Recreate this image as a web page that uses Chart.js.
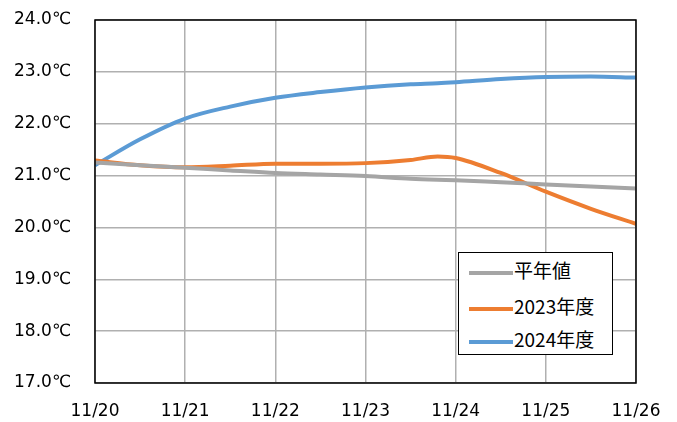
<!DOCTYPE html>
<html>
<head>
<meta charset="utf-8">
<script src="https://cdn.jsdelivr.net/npm/chart.js@4.4.0/dist/chart.umd.min.js"></script>
<style>
  body { margin: 0; background: #fff; }
  #wrap { position: relative; width: 677px; height: 422px; }
  #legend {
    position: absolute; left: 458px; top: 252px; width: 153px; height: 101px;
    border: 1px solid #000; background: #fff;
    font-family: "Noto Sans CJK JP", "DejaVu Sans", sans-serif; font-size: 19px; color: #000;
  }
  .item { position: absolute; left: 10px; height: 24px; line-height: 24px; white-space: nowrap; }
  .item span.sw { display: inline-block; width: 44px; height: 4px; vertical-align: middle; margin-right: 1px; }
</style>
</head>
<body>
<div id="wrap">
  <canvas id="chart" width="677" height="422"></canvas>
  <div id="legend"></div>
</div>
<script>
// day offsets from 11/20
let days = [0, 0.5, 1, 1.5, 2, 2.5, 3, 3.5, 3.8, 4, 4.5, 5, 5.5, 6];
let dayLabels = ["11/20", "11/21", "11/22", "11/23", "11/24", "11/25", "11/26"];
let yLabels = ["17.0℃", "18.0℃", "19.0℃", "20.0℃", "21.0℃", "22.0℃", "23.0℃", "24.0℃"];

let normal  = [21.25, 21.20, 21.15, 21.10, 21.05, 21.02, 20.99, 20.94, 20.92, 20.91, 20.87, 20.83, 20.79, 20.75];
let fy2023  = [21.29, 21.20, 21.16, 21.19, 21.23, 21.23, 21.24, 21.30, 21.37, 21.34, 21.05, 20.69, 20.36, 20.07];
let fy2024  = [21.20, 21.70, 22.10, 22.33, 22.50, 22.61, 22.70, 22.76, 22.78, 22.80, 22.86, 22.90, 22.91, 22.89];

let names  = ["平年値", "2023年度", "2024年度"];
let colors = ["#A5A5A5", "#ED7D31", "#5B9BD5"];
let series = [normal, fy2023, fy2024];

function pts(arr) {
    return arr.map((v, i) => ({ x: days[i], y: v }));
}

const frame = {
    id: "frame",
    afterDraw(chart) {
        const a = chart.chartArea;
        const c = chart.ctx;
        c.save();
        c.strokeStyle = "#000";
        c.lineWidth = 1.5;
        c.strokeRect(a.left, a.top, a.right - a.left, a.bottom - a.top);
        c.restore();
    }
};

const tickFont = { family: "DejaVu Sans", size: 17 };

new Chart(document.getElementById("chart").getContext("2d"), {
    type: "line",
    data: {
        datasets: series.map((s, i) => ({
            label: names[i],
            data: pts(s),
            borderColor: colors[i],
            backgroundColor: colors[i],
            borderWidth: 4,
            pointRadius: 0,
            cubicInterpolationMode: "monotone",
            fill: false
        }))
    },
    options: {
        responsive: false,
        animation: false,
        layout: { padding: { left: 0, right: 41, top: 20, bottom: 0 } },
        plugins: { legend: { display: false }, tooltip: { enabled: false } },
        scales: {
            x: {
                type: "linear", min: 0, max: 6,
                afterFit(s) { s.height = 39; s.paddingLeft = 0; s.paddingRight = 0; },
                ticks: {
                    stepSize: 1, padding: 18, color: "#000", font: tickFont,
                    callback: (v) => dayLabels[v]
                },
                grid: { color: "#B0B0B0", lineWidth: 1.5, drawTicks: false },
                border: { display: false }
            },
            y: {
                min: 17, max: 24,
                afterFit(s) { s.width = 95; s.paddingTop = 0; s.paddingBottom = 0; },
                ticks: {
                    stepSize: 1, padding: 24, color: "#000", font: tickFont,
                    callback: (v) => yLabels[v - 17]
                },
                grid: { color: "#B0B0B0", lineWidth: 1.5, drawTicks: false },
                border: { display: false }
            }
        }
    },
    plugins: [frame]
});

// legend
const legend = document.getElementById("legend");
const tops = [5, 41, 74];
names.forEach((n, i) => {
    const d = document.createElement("div");
    d.className = "item";
    d.style.top = tops[i] + "px";
    d.innerHTML = `<span class="sw" style="background:${colors[i]}"></span>${n}`;
    legend.appendChild(d);
});
</script>
</body>
</html>
